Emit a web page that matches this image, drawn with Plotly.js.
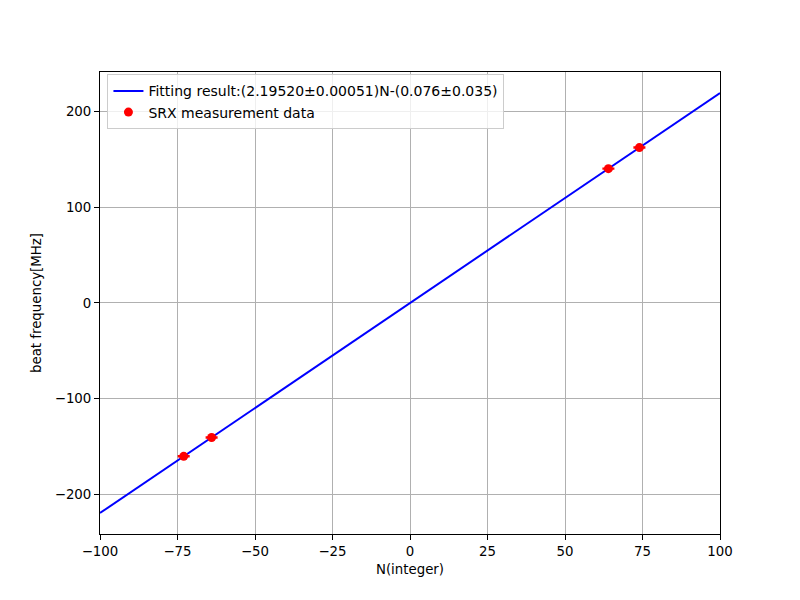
<!DOCTYPE html>
<html>
<head>
<meta charset="utf-8">
<script src="https://cdn.plot.ly/plotly-3.0.1.min.js"></script>
<style>html,body{margin:0;padding:0;background:#fff;}#chart{width:800px;height:600px;}</style>
</head>
<body>
<div id="chart"></div>
<script>
// Measured data
var dataN = [-73, -64, 64, 74];
var dataFreq = [-160.3, -140.6, 140.4, 162.4];
var dataErr = [0.5, 0.5, 0.5, 0.5];
// Fit line endpoints
var fitN = [-100, 100];
var fitFreq = [-219.596, 219.444];

var fitLabel = 'Fitting result:(2.19520\u00B10.00051)N-(0.076\u00B10.035)';
var dataLabel = 'SRX measurement data';

var font = {family: 'DejaVu Sans, sans-serif', size: 13.33, color: '#000'};
var legendFont = {family: 'DejaVu Sans, sans-serif', size: 14, color: '#000'};

var traces = [
  {
    x: fitN, y: fitFreq, type: 'scatter', mode: 'lines',
    name: fitLabel,
    line: {color: '#0000ff', width: 2}
  },
  {
    x: dataN, y: dataFreq, type: 'scatter', mode: 'markers',
    name: dataLabel,
    marker: {color: '#ff0000', size: 9},
    error_y: {type: 'data', array: dataErr, visible: true, color: '#ff0000', thickness: 1.5, width: 6}
  }
];

var axisCommon = {
  showline: true, linecolor: '#000', linewidth: 1, mirror: true,
  ticks: 'outside', ticklen: 5, tickwidth: 1, tickcolor: '#000',
  showgrid: true, gridcolor: '#b0b0b0', gridwidth: 1,
  zeroline: false, tickfont: font
};

var layout = {
  width: 800, height: 600,
  margin: {l: 100, r: 80, t: 72, b: 66},
  paper_bgcolor: '#fff', plot_bgcolor: '#fff',
  font: font,
  showlegend: true,
  legend: {
    x: 0.012, y: 0.995, xanchor: 'left', yanchor: 'top',
    bgcolor: 'rgba(255,255,255,0.8)', bordercolor: '#cccccc', borderwidth: 1,
    font: legendFont, tracegroupgap: 0
  },
  xaxis: Object.assign({}, axisCommon, {
    range: [-100, 100], tickvals: [-100, -75, -50, -25, 0, 25, 50, 75, 100],
    title: {text: 'N(integer)', font: font, standoff: 6}
  }),
  yaxis: Object.assign({}, axisCommon, {
    range: [-241.5, 241.4], tickvals: [-200, -100, 0, 100, 200],
    title: {text: 'beat frequency[MHz]', font: font, standoff: 10}
  })
};

Plotly.newPlot('chart', traces, layout, {displayModeBar: false, staticPlot: true});
</script>
</body>
</html>
